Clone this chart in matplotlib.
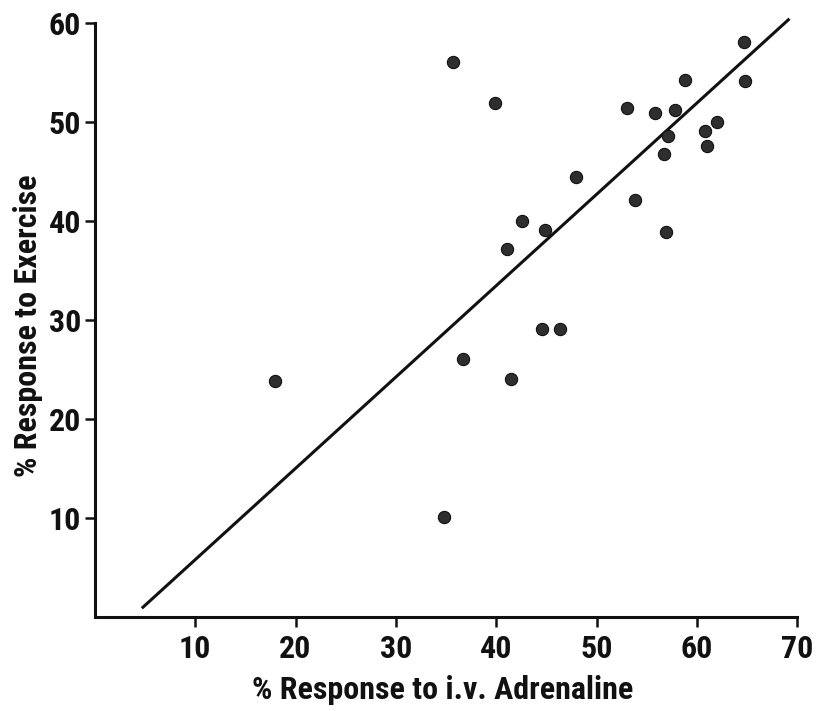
import matplotlib as mpl
mpl.use("Agg")
import matplotlib.pyplot as plt
import numpy as np

mpl.rcParams["font.family"] = ["Roboto Condensed", "DejaVu Sans"]
mpl.rcParams["font.stretch"] = "condensed"

# % response to i.v. adrenaline (x) vs % response to exercise (y)
adrenaline = [35.7, 39.9, 53.0, 55.8, 57.8, 58.8, 64.7, 64.8, 62.0, 60.8,
              61.0, 57.1, 56.7, 47.9, 53.8, 42.6, 44.9, 41.1, 56.9, 44.6,
              46.3, 36.7, 41.5, 18.0, 34.8]
exercise = [56.0, 51.9, 51.4, 50.9, 51.2, 54.2, 58.1, 54.1, 50.0, 49.1,
            47.6, 48.6, 46.8, 44.4, 42.1, 40.0, 39.1, 37.2, 38.9, 29.1,
            29.1, 26.1, 24.0, 23.8, 10.1]

# regression line end points
line_x = [4.8, 69.1]
line_y = [1.0, 60.3]

x_ticks = [10, 20, 30, 40, 50, 60, 70]
y_ticks = [10, 20, 30, 40, 50, 60]

fig = plt.figure(figsize=(8.17, 7.11), dpi=100)
ax = fig.add_axes([0.116, 0.132, 0.86, 0.836])

ax.plot(line_x, line_y, color="#111111", lw=2.2, clip_on=False, zorder=2)
ax.scatter(adrenaline, exercise, s=78, color="#2e2e2e",
           edgecolor="#111111", lw=0.8, clip_on=False, zorder=3)

ax.set_xlim(0, 70)
ax.set_ylim(0, 60)
ax.set_xticks(x_ticks)
ax.set_yticks(y_ticks)

for side in ["top", "right"]:
    ax.spines[side].set_visible(False)
for side in ["left", "bottom"]:
    ax.spines[side].set_linewidth(2.2)
    ax.spines[side].set_color("#111111")

ax.tick_params(length=7, width=1.8, color="#111111", labelsize=23,
               labelcolor="#111111")
ax.tick_params(axis="x", pad=5)
ax.tick_params(axis="y", pad=3)
for lab in ax.get_xticklabels() + ax.get_yticklabels():
    lab.set_fontweight("bold")
    lab.set_fontstretch("condensed")

ax.set_xlabel("% Response to i.v. Adrenaline", fontsize=23,
              fontweight="bold", fontstretch="condensed", color="#111111")
ax.set_ylabel("% Response to Exercise", fontsize=23,
              fontweight="bold", fontstretch="condensed", color="#111111")
ax.xaxis.set_label_coords(0.495, -0.098)
ax.yaxis.set_label_coords(-0.073, 0.49)

fig.savefig("out.png", dpi=100, facecolor="white")
